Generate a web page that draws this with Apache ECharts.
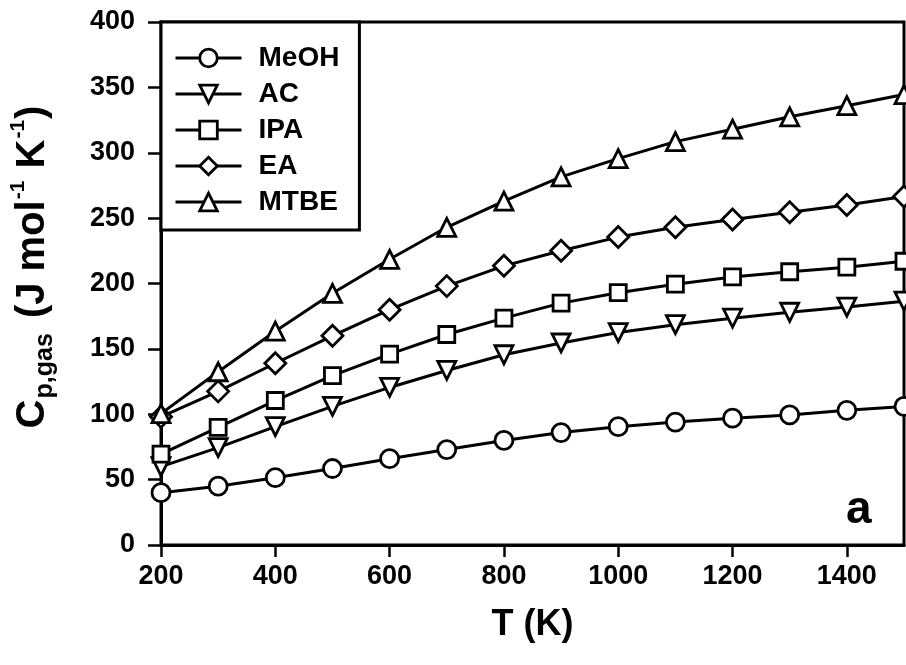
<!DOCTYPE html>
<html>
<head>
<meta charset="utf-8">
<script src="https://cdn.jsdelivr.net/npm/echarts@6/dist/echarts.min.js"></script>
<style>
html,body{margin:0;padding:0;background:#fff;}
#chart{width:906px;height:665px;}
</style>
</head>
<body>
<div id="chart"></div>
<script>
var temperatures = [200,300,400,500,600,700,800,900,1000,1100,1200,1300,1400,1500];
var meoh = [40, 45, 51.5, 58.5, 66, 73, 80, 86, 90.5, 94, 97, 99.5, 103, 106];
var ac   = [60, 74.5, 90.5, 106, 120.5, 133.5, 145.5, 154.5, 162.5, 168.5, 173.5, 178, 182, 186.5];
var ipa  = [69.5, 90, 110.5, 129.5, 146, 161, 173.5, 185, 193, 199.5, 205, 209, 212.5, 217];
var ea   = [98, 117.5, 139, 160, 180, 198, 213.5, 225, 235.5, 243, 249, 254.5, 260, 266.5];
var mtbe = [100.5, 132.5, 163.5, 192.5, 218.5, 243, 263, 281.5, 295.5, 308.5, 318, 327.5, 336, 344.5];
var seriesNames = ['MeOH','AC','IPA','EA','MTBE'];

var FONT = '"Liberation Sans", Arial, sans-serif';
function pairs(vals){ return temperatures.map(function(t,i){ return [t, vals[i]]; }); }
function mk(name, vals, symbol, size){
  return {
    name: name, type: 'line', data: pairs(vals),
    symbol: symbol, symbolSize: size, showAllSymbol: true,
    lineStyle: {color:'#000', width: 3},
    itemStyle: {color:'#fff', borderColor:'#000', borderWidth: 2.8},
    emphasis: {disabled: true},
    clip: false, z: 5
  };
}
var chart = echarts.init(document.getElementById('chart'), null, {renderer:'canvas'});
chart.setOption({
  animation: false,
  backgroundColor: '#fff',
  grid: {left: 161, right: 2, top: 22, bottom: 120, show: true, borderColor:'#000', borderWidth: 3},
  legend: {
    data: seriesNames,
    orient: 'vertical', left: 161, top: 22,
    itemWidth: 66, itemHeight: 22, itemGap: 8,
    padding: [22, 20, 14, 13],
    borderColor: '#000', borderWidth: 3, backgroundColor: '#fff',
    lineStyle: {color: '#000', width: 3},
    itemStyle: {color: '#fff', borderColor: '#000', borderWidth: 2.8},
    textStyle: {fontFamily: FONT, fontWeight: 'bold', fontSize: 28, color: '#000', padding: [0,0,0,12]},
    selectedMode: false
  },
  xAxis: {
    type: 'value', min: 200, max: 1500, interval: 200,
    name: 'T (K)', nameLocation: 'middle', nameGap: 62,
    nameTextStyle: {fontFamily: FONT, fontWeight: 'bold', fontSize: 36, color: '#000'},
    axisLine: {lineStyle: {color:'#000', width: 3}},
    axisTick: {show: true, inside: false, length: 12, lineStyle: {color:'#000', width: 2.5}},
    axisLabel: {fontFamily: FONT, fontWeight: 'bold', fontSize: 27, color: '#000', margin: 18, showMaxLabel: false,
      formatter: function(v){ return String(v); }},
    splitLine: {show: false}
  },
  yAxis: {
    type: 'value', min: 0, max: 400, interval: 50,
    axisLine: {lineStyle: {color:'#000', width: 3}},
    axisTick: {show: true, inside: false, length: 13, lineStyle: {color:'#000', width: 2.5}},
    axisLabel: {fontFamily: FONT, fontWeight: 'bold', fontSize: 27, color: '#000', margin: 26,
      formatter: function(v){ return String(v); }},
    splitLine: {show: false}
  },
  graphic: [{
    type: 'text', left: 846, top: 487, z: 10,
    style: {text: 'a', fontFamily: FONT, fontWeight: 'bold', fontSize: 46, fill: '#000'}
  }, {
    type: 'text', x: 33, y: 267, rotation: Math.PI / 2, z: 10,
    style: {
      text: '{m|C}{s|p,gas}{m| (J mol}{u|-1}{m| K}{u|-1}{m|)}',
      align: 'center', verticalAlign: 'middle',
      fontFamily: FONT, fontWeight: 'bold', fill: '#000',
      rich: {
        m: {fontFamily: FONT, fontWeight: 'bold', fontSize: 40, lineHeight: 50, fill:'#000'},
        s: {fontFamily: FONT, fontWeight: 'bold', fontSize: 25, lineHeight: 24, verticalAlign: 'bottom', fill:'#000', padding: [0, 4, 0, 1]},
        u: {fontFamily: FONT, fontWeight: 'bold', fontSize: 21, lineHeight: 24, verticalAlign: 'top', fill:'#000', padding: [0, 1, 0, 1]}
      }
    }
  }],
  series: [
    mk('MeOH', meoh, 'circle', 18),
    mk('AC', ac, 'path://M0,0 L10,0 L5,8.7 Z', 18),
    mk('IPA', ipa, 'rect', 16),
    mk('EA', ea, 'diamond', 21),
    mk('MTBE', mtbe, 'triangle', 18)
  ]
});
</script>
</body>
</html>
